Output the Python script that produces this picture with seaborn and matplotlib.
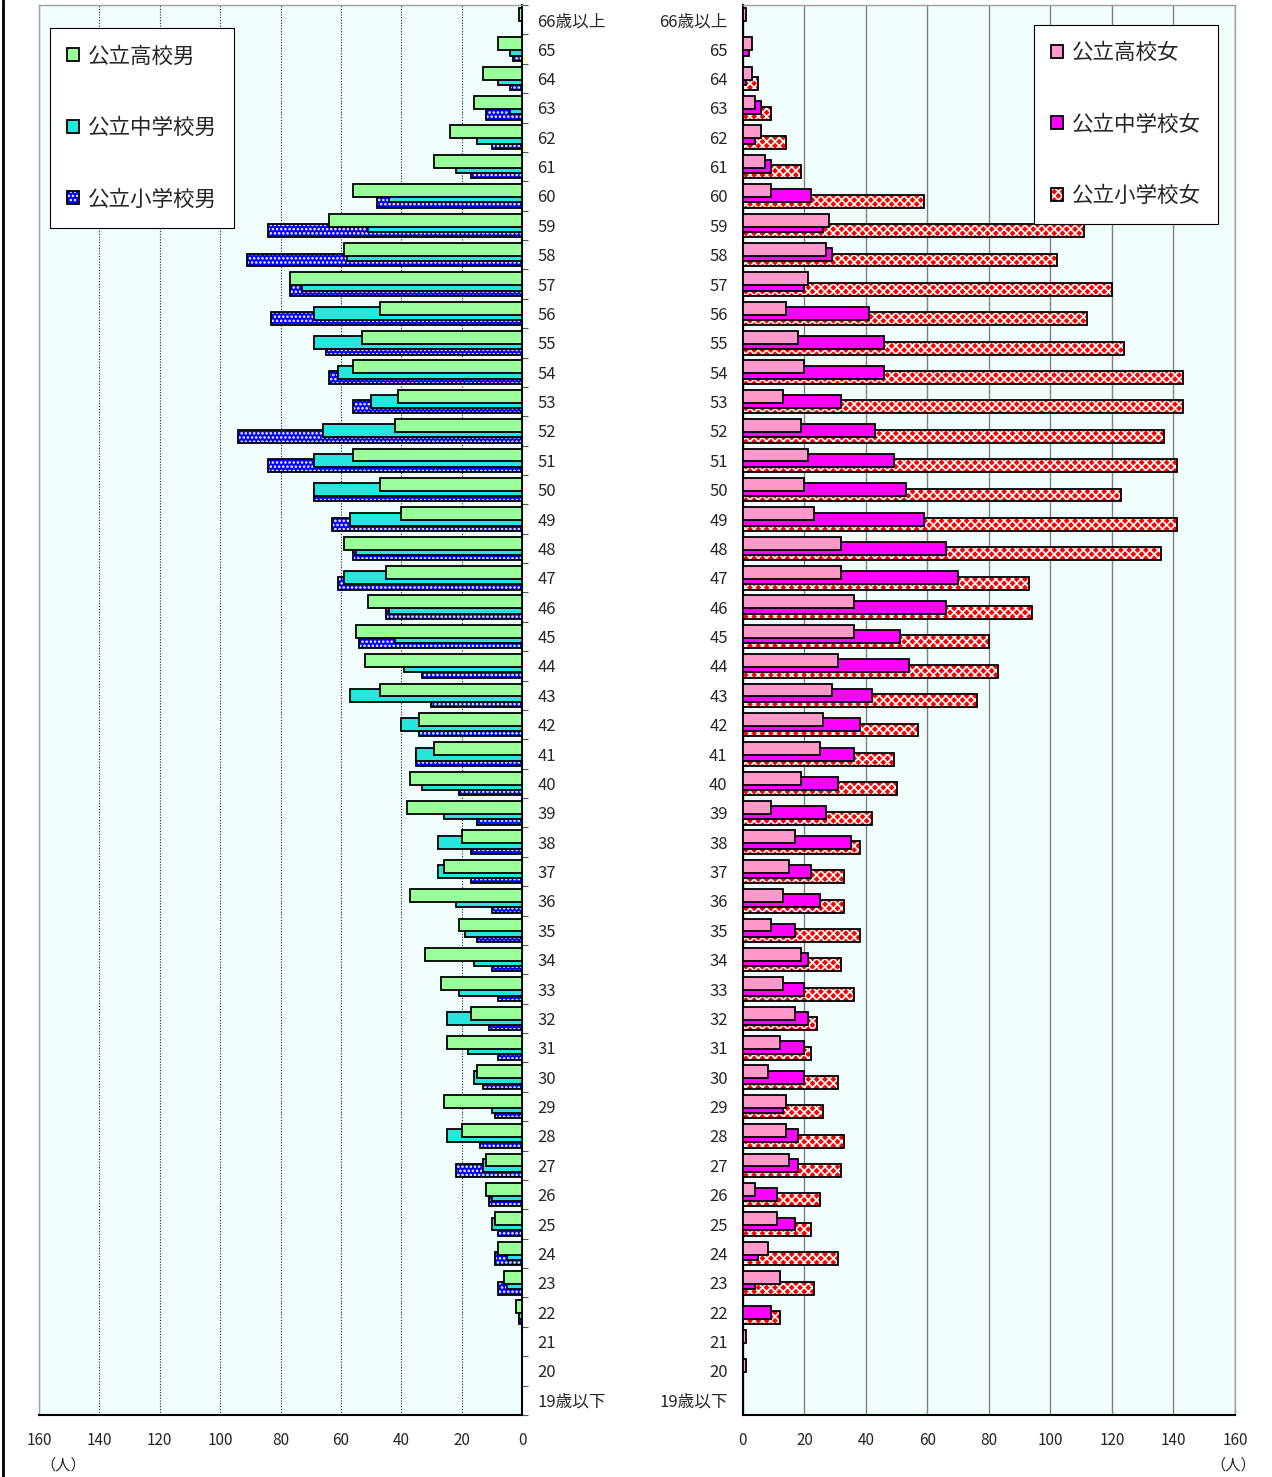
import matplotlib
matplotlib.use('Agg')
import numpy as np
import pandas as pd
import matplotlib.pyplot as plt
from matplotlib.colors import to_rgba
from matplotlib.lines import Line2D
import seaborn as sns

# age classes, top to bottom as in the chart
ages = ['66歳以上', '65', '64', '63', '62', '61', '60', '59', '58', '57', '56', '55',
        '54', '53', '52', '51', '50', '49', '48', '47', '46', '45', '44', '43',
        '42', '41', '40', '39', '38', '37', '36', '35', '34', '33', '32', '31',
        '30', '29', '28', '27', '26', '25', '24', '23', '22', '21', '20', '19歳以下']

# male counts
high_m = [1, 8, 13, 16, 24, 29, 56, 64, 59, 77, 47, 53, 56, 41, 42, 56, 47, 40, 59, 45, 51, 55, 52, 47,
          34, 29, 37, 38, 20, 26, 37, 21, 32, 27, 17, 25, 15, 26, 20, 12, 12, 9, 8, 6, 2, 0, 0, 0]
mid_m = [0, 4, 8, 4, 15, 22, 44, 51, 58, 73, 69, 69, 61, 50, 66, 69, 69, 57, 55, 59, 44, 42, 39, 57,
         40, 35, 33, 26, 28, 28, 22, 19, 16, 21, 25, 18, 16, 10, 25, 13, 10, 10, 5, 5, 1, 0, 0, 0]
elem_m = [0, 3, 4, 12, 10, 17, 48, 84, 91, 77, 83, 65, 64, 56, 94, 84, 69, 63, 56, 61, 45, 54, 33, 30,
          34, 35, 21, 15, 17, 17, 10, 15, 10, 8, 11, 8, 13, 9, 14, 22, 11, 8, 9, 8, 1, 0, 0, 0]

# female counts
high_f = [1, 3, 3, 4, 6, 7, 9, 28, 27, 21, 14, 18, 20, 13, 19, 21, 20, 23, 32, 32, 36, 36, 31, 29,
          26, 25, 19, 9, 17, 15, 13, 9, 19, 13, 17, 12, 8, 14, 14, 15, 4, 11, 8, 12, 0, 1, 1, 0]
mid_f = [0, 2, 1, 6, 4, 9, 22, 26, 29, 20, 41, 46, 46, 32, 43, 49, 53, 59, 66, 70, 66, 51, 54, 42,
         38, 36, 31, 27, 35, 22, 25, 17, 21, 20, 21, 20, 20, 13, 18, 18, 11, 17, 5, 4, 9, 0, 0, 0]
elem_f = [0, 0, 5, 9, 14, 19, 59, 111, 102, 120, 112, 124, 143, 143, 137, 141, 123, 141, 136, 93, 94, 80, 83, 76,
          57, 49, 50, 42, 38, 33, 33, 38, 32, 36, 24, 22, 31, 26, 33, 32, 25, 22, 31, 23, 12, 0, 0, 0]

male_order = ['公立高校男', '公立中学校男', '公立小学校男']
female_order = ['公立高校女', '公立中学校女', '公立小学校女']


def long_table(series):
    rows = []
    for name, vals in series.items():
        for a, v in zip(ages, vals):
            rows.append({'age': a, 'school': name, 'count': v})
    return pd.DataFrame(rows)


def draw_panel(ax, df, order, colors, hatches):
    sns.barplot(data=df, x='count', y='age', hue='school', hue_order=order, order=ages,
                palette=dict(zip(order, colors)), orient='h', width=0.54, saturation=1,
                edgecolor='black', linewidth=1.3, errorbar=None, legend=False, ax=ax)
    for i, cont in enumerate(ax.containers):
        for p in cont.patches:
            c = p.get_y() + p.get_height() / 2
            p.set_height(0.44)
            p.set_y(c - 0.22)
            p.set_zorder(3.2 - 0.1 * i)
            if hatches[i]:
                p.set_hatch(hatches[i])
                if hasattr(p, 'set_hatchcolor'):
                    p.set_hatchcolor('white')
                else:
                    p._hatch_color = to_rgba('white')
    ax.set_xlabel('')
    ax.set_ylabel('')
    ax.set_xlim(0, 160)
    ax.set_xticks(range(0, 161, 20))
    ax.set_facecolor('#f1fdfd')
    ax.set_axisbelow(True)
    ax.set_yticks(np.arange(-0.5, len(ages)), minor=True)
    ax.tick_params(axis='y', which='major', labelsize=12, length=0, pad=11)
    ax.tick_params(axis='y', which='minor', length=4, width=0.8, color='#555')
    ax.tick_params(axis='x', labelsize=11, length=0, pad=12)
    leg = ax.legend(ax.containers, order, fontsize=15.5, labelspacing=2.3, borderpad=0.8,
                    handletextpad=0.4, handlelength=0.55, handleheight=0.55,
                    fancybox=False, framealpha=1, borderaxespad=0)
    leg.get_frame().set_edgecolor('black')
    leg.get_frame().set_linewidth(0.8)
    return leg


sns.set_style('white')
plt.rcParams['font.family'] = ['Noto Sans CJK JP', 'DejaVu Sans']
plt.rcParams['hatch.linewidth'] = 1.2

fig = plt.figure(figsize=(12.72, 14.77), dpi=100)
axL = fig.add_axes([0.0307, 0.042, 0.3797, 0.9546])
axR = fig.add_axes([0.5841, 0.042, 0.3868, 0.9546])

male = long_table({male_order[0]: high_m, male_order[1]: mid_m, male_order[2]: elem_m})
female = long_table({female_order[0]: high_f, female_order[1]: mid_f, female_order[2]: elem_f})

legL = draw_panel(axL, male, male_order, ['#99ff99', '#26e6dc', '#0000ff'], [None, None, '....'])
legR = draw_panel(axR, female, female_order, ['#ff99cc', '#ff00ff', '#ff0000'], [None, None, 'xxxx'])

# left: values grow to the left, labels on the right side
axL.set_xlim(160, 0)
axL.yaxis.tick_right()
axL.grid(axis='x', color='#222222', linestyle=(0, (1, 1.5)), linewidth=0.8)
axL.grid(axis='y', visible=False)
for s in ['top', 'left']:
    axL.spines[s].set_color('#a0a0a0')
    axL.spines[s].set_linewidth(1)
for s in ['right', 'bottom']:
    axL.spines[s].set_color('black')
    axL.spines[s].set_linewidth(1.5)
legL.set_loc('upper left')
legL.set_bbox_to_anchor((0.023, 0.9835))

axR.grid(axis='x', color='#808080', linestyle='-', linewidth=1)
axR.grid(axis='y', visible=False)
for s in ['top', 'right']:
    axR.spines[s].set_color('#a0a0a0')
    axR.spines[s].set_linewidth(1)
for s in ['left', 'bottom']:
    axR.spines[s].set_color('black')
    axR.spines[s].set_linewidth(1.5)
legR.set_loc('upper right')
legR.set_bbox_to_anchor((0.965, 0.986))

fig.text(40 / 1272, 1 - 1465 / 1477, '（人）', fontsize=11, ha='left', va='center')
fig.text(1256 / 1272, 1 - 1465 / 1477, '（人）', fontsize=11, ha='right', va='center')
fig.add_artist(Line2D([3 / 1272, 3 / 1272], [0, 1], transform=fig.transFigure, color='black', lw=2))

fig.savefig('out.png', dpi=100)
